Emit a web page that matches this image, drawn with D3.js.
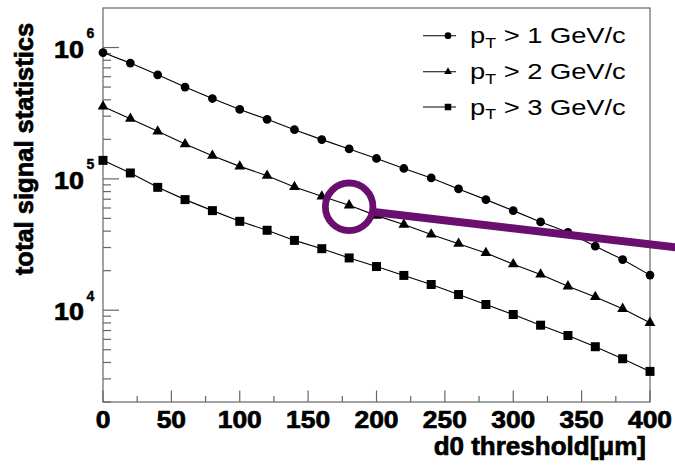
<!DOCTYPE html>
<html><head><meta charset="utf-8">
<script src="https://cdn.jsdelivr.net/npm/d3@7"></script>
<style>body{margin:0;background:#fff}svg{display:block}text{font-family:"Liberation Sans",Arial,Helvetica,sans-serif}
text.b{font-weight:bold;stroke:#000;stroke-width:0.7px}</style>
</head><body>
<script>
// ---- data ----
const thresholds = [0,20,40,60,80,100,120,140,160,180,200,220,240,260,280,300,320,340,360,380,400];
const pt1 = [9.16e5,7.61e5,6.20e5,5.00e5,4.09e5,3.38e5,2.84e5,2.37e5,1.99e5,1.69e5,1.43e5,1.20e5,1.016e5,8.38e4,6.95e4,5.73e4,4.70e4,3.92e4,3.07e4,2.43e4,1.85e4];
const pt2 = [3.56e5,2.87e5,2.30e5,1.84e5,1.50e5,1.245e5,1.057e5,8.68e4,7.36e4,6.29e4,5.25e4,4.49e4,3.77e4,3.21e4,2.73e4,2.24e4,1.87e4,1.52e4,1.26e4,1.025e4,8.02e3];
const pt3 = [1.383e5,1.109e5,8.62e4,6.95e4,5.73e4,4.75e4,4.06e4,3.40e4,2.94e4,2.50e4,2.15e4,1.84e4,1.57e4,1.316e4,1.105e4,9.27e3,7.69e3,6.42e3,5.27e3,4.27e3,3.42e3];
const seriesNames = ["1","2","3"];
const xTicks = [0,50,100,150,200,250,300,350,400];
const yDecades = [4,5,6];
const xLabel = "d0 threshold[\u03bcm]";
const yLabel = "total signal statistics";
// annotation (data coordinates)
const annoCircleAt = {x:180, y:6.29e4};
const annoLine = [{x:198, y:5.6e4},{x:420, y:3.0e4}];

const W=675,H=471;
const L=103,R=650,T=8,B=402;
const svg=d3.select("body").append("svg").attr("width",W).attr("height",H);
const x=d3.scaleLinear().domain([0,400]).range([L,R]);
const y=d3.scaleLog().domain([2e3,2e6]).range([B,T]);
const axisCol="#666";

// frame
svg.append("rect").attr("x",L).attr("y",T).attr("width",R-L).attr("height",B-T)
  .attr("fill","none").attr("stroke",axisCol).attr("stroke-width",1.2);

// x ticks (inside)
const xMinor=d3.range(25,400,50);
const gx=svg.append("g");
gx.selectAll("line.maj").data(xTicks).join("line").attr("x1",d=>x(d)).attr("x2",d=>x(d))
  .attr("y1",B).attr("y2",B-11.5).attr("stroke",axisCol).attr("stroke-width",1.2);
gx.selectAll("line.min").data(xMinor).join("line").attr("x1",d=>x(d)).attr("x2",d=>x(d))
  .attr("y1",B).attr("y2",B-6).attr("stroke",axisCol).attr("stroke-width",1.2);
gx.selectAll("text").data(xTicks).join("text").attr("class","b")
  .attr("transform",d=>`translate(${x(d)},427.7) scale(1.1,1)`)
  .attr("text-anchor","middle").attr("font-size",24).text(d=>d);

// y ticks
const yMinor=[];
[3,4,5].forEach(e=>{for(let m=2;m<=9;m++){const v=m*Math.pow(10,e);if(v>=2e3&&v<=2e6)yMinor.push(v);}});
const gy=svg.append("g");
gy.selectAll("line.maj").data(yDecades).join("line").attr("x1",L).attr("x2",L+16)
  .attr("y1",d=>y(Math.pow(10,d))).attr("y2",d=>y(Math.pow(10,d))).attr("stroke",axisCol).attr("stroke-width",1.2);
gy.selectAll("line.min").data(yMinor).join("line").attr("x1",L).attr("x2",L+8)
  .attr("y1",d=>y(d)).attr("y2",d=>y(d)).attr("stroke",axisCol).attr("stroke-width",1.2);
yDecades.forEach(e=>{
  const yy=y(Math.pow(10,e));
  gy.append("text").attr("class","b").attr("transform",`translate(84,${yy+10}) scale(1.12,1)`).attr("text-anchor","end")
    .attr("font-size",24).text("10");
  gy.append("text").attr("class","b").attr("x",86.5).attr("y",yy-9.5).attr("text-anchor","start")
    .attr("font-size",14).style("stroke-width","0.4px").text(e);
});

// axis titles
svg.append("text").attr("class","b").attr("x",646).attr("y",455).attr("text-anchor","end")
  .attr("font-size",26).text(xLabel);
svg.append("text").attr("class","b").attr("transform","translate(33,149) rotate(-90)").attr("text-anchor","middle")
  .attr("font-size",25.5).text(yLabel);

// series
const series=[pt1,pt2,pt3];
const symbols=[d3.symbolCircle,d3.symbolTriangle,d3.symbolSquare];
const symSize=[60,50,81];
const legSize=[36,26,42];
const line=d3.line().x((d,i)=>x(thresholds[i])).y(d=>y(d));
series.forEach((s,k)=>{
  svg.append("path").attr("d",line(s)).attr("fill","none").attr("stroke","#000").attr("stroke-width",1.1);
  svg.append("g").selectAll("path").data(s).join("path")
    .attr("transform",(d,i)=>`translate(${x(thresholds[i])},${y(d)})`)
    .attr("d",d3.symbol().type(symbols[k]).size(symSize[k])).attr("fill","#000");
});

// legend
const legY=[35.7,71.7,107];
seriesNames.forEach((n,k)=>{
  const g=svg.append("g");
  g.append("line").attr("x1",423).attr("x2",456).attr("y1",legY[k]).attr("y2",legY[k]).attr("stroke","#000").attr("stroke-width",1.1);
  g.append("path").attr("transform",`translate(448,${legY[k]})`).attr("d",d3.symbol().type(symbols[k]).size(legSize[k])).attr("fill","#000");
  const t=g.append("text").attr("transform",`translate(470,${legY[k]+7.5}) scale(1.27,1)`).attr("font-size",21.5);
  t.append("tspan").text("p");
  t.append("tspan").attr("font-size",14).attr("dy",4.5).text("T");
  t.append("tspan").attr("dy",-4.5).text(` > ${n} GeV/c`);
});

// annotation
const purple="#6a0f6e";
svg.append("line").attr("x1",x(annoLine[0].x)).attr("y1",y(annoLine[0].y))
  .attr("x2",x(annoLine[1].x)).attr("y2",y(annoLine[1].y)).attr("stroke",purple).attr("stroke-width",8);
svg.append("circle").attr("cx",x(annoCircleAt.x)).attr("cy",y(annoCircleAt.y)+1.5).attr("r",23.8)
  .attr("fill","none").attr("stroke",purple).attr("stroke-width",6.8);
</script>
</body></html>
